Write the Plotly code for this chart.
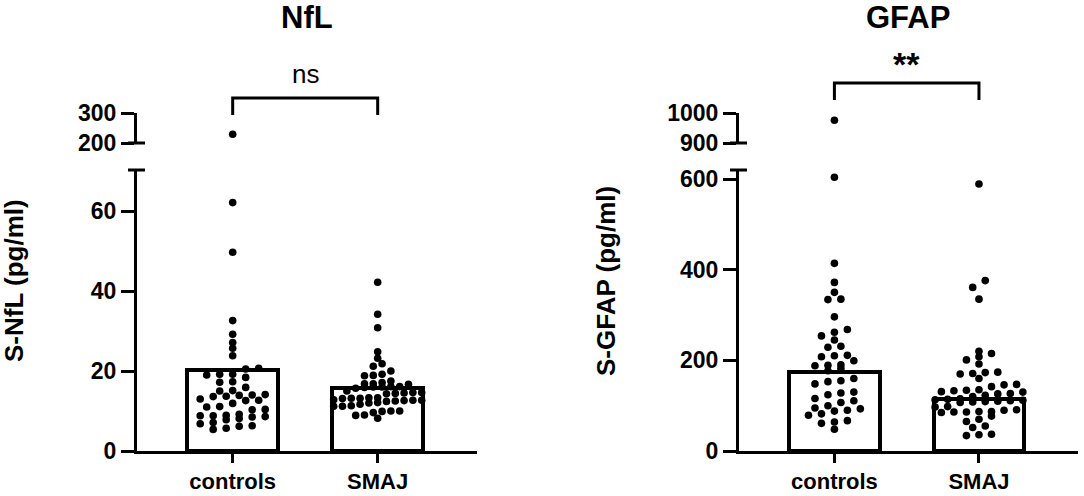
import plotly.graph_objects as go

W, H = 1084, 496

# ---------------- data ----------------
groups = ["controls", "SMAJ"]

nfl_controls = [229, 62.1, 49.7, 32.6, 29.2, 27.1, 25.7, 23.8, 20.7, 20.5, 19.2, 19.2, 19.0,
                18.4, 17.3, 17.2, 15.9, 15.1, 15.0, 14.1, 14.0, 13.9, 13.7, 13.6, 13.0, 12.7,
                12.6, 11.9, 11.1, 11.0, 10.4, 10.3, 9.2, 8.9, 8.8, 8.8, 8.6, 8.5, 8.1, 7.8,
                7.1, 6.8, 6.3, 6.2, 5.7, 5.4]
nfl_smaj = [42.2, 34.2, 30.8, 24.8, 23.2, 21.8, 21.2, 20.0, 19.2, 18.9, 18.8, 17.5, 17.1,
            16.8, 16.8, 16.7, 16.1, 16.1, 16.0, 16.0, 15.9, 15.7, 15.0, 14.6, 14.6, 14.5,
            14.4, 14.3, 13.3, 13.3, 13.2, 13.2, 13.1, 12.8, 12.7, 12.7, 12.6, 12.5, 12.4,
            12.1, 12.0, 11.7, 11.3, 11.2, 11.2, 10.0, 10.0, 9.9, 9.6, 9.0, 8.9, 8.2]
gfap_controls = [976, 604, 414, 372, 350, 335, 334, 296, 268, 262, 254, 245, 231, 229, 211,
                 210, 208, 199, 190, 189, 188, 182, 177, 160, 155, 153, 148, 130, 128, 124,
                 116, 111, 107, 100, 95, 93, 90, 88, 82, 79, 67, 64, 61, 48]
gfap_smaj = [589, 376, 361, 335, 220, 215, 208, 201, 192, 174, 173, 171, 170, 160, 147, 146,
             142, 135, 134, 133, 131, 130, 127, 126, 123, 120, 115, 114, 113, 112, 111, 110,
             109, 108, 107, 98, 97, 91, 90, 87, 87, 86, 86, 85, 77, 70, 65, 55, 52, 37, 36, 34]

nfl_bar = [20.25, 15.8]
gfap_bar = [173.5, 114]

nfl_lower_ticks = [0, 20, 40, 60]
nfl_upper_ticks = [200, 300]
gfap_lower_ticks = [0, 200, 400, 600]
gfap_upper_ticks = [900, 1000]

panel_titles = ["NfL", "GFAP"]
y_titles = ["S-NfL (pg/ml)", "S-GFAP (pg/ml)"]
significance = ["ns", "**"]

# ---------------- layout geometry ----------------
FONT = "Liberation Sans, Arial, sans-serif"
x_domains = [[137 / W, 477 / W], [739 / W, 1078 / W]]
x_range = [-0.66, 1.685]
low_dom = [1 - 451 / H, 1 - 170 / H]
up_dom = [1 - 143 / H, 1 - 113 / H]
low_ranges = [[0, 70.25], [0, 620]]
up_ranges = [[200, 300], [900, 1000]]

px_per_xunit = (x_domains[0][1] - x_domains[0][0]) * W / (x_range[1] - x_range[0])


def value_to_px(v, lr, ur):
    if v <= lr[1]:
        return (1 - low_dom[0]) * H - (v - lr[0]) * (low_dom[1] - low_dom[0]) * H / (lr[1] - lr[0])
    return (1 - up_dom[0]) * H - (v - ur[0]) * (up_dom[1] - up_dom[0]) * H / (ur[1] - ur[0])


def swarm(values, lr, ur, row_px=8.0, max_half=44.0, max_step=13.0):
    """Prism-like scatter: bin points into rows one dot high, centre each row."""
    rows = {}
    for i, v in enumerate(values):
        key = int(value_to_px(v, lr, ur) // row_px)
        rows.setdefault(key, []).append(i)
    max_n = max(len(r) for r in rows.values())
    step = min(max_step, 2 * max_half / (max_n - 1)) if max_n > 1 else 0
    offs = [0.0] * len(values)
    for key, idx in rows.items():
        idx = sorted(idx, key=lambda i: values[i])
        n = len(idx)
        for j, i in enumerate(idx):
            offs[i] = (j - (n - 1) / 2) * step / px_per_xunit
    return offs


fig = go.Figure()

panels = [
    (nfl_controls, nfl_smaj, nfl_bar, "x", "y", "y2", 0),
    (gfap_controls, gfap_smaj, gfap_bar, "x2", "y3", "y4", 1),
]

for ctrl, smaj, bars, xa, ylo, yup, p in panels:
    lr, ur = low_ranges[p], up_ranges[p]
    fig.add_trace(go.Bar(
        x=[0, 1], y=bars, width=0.628, xaxis=xa, yaxis=ylo,
        marker=dict(color="white", line=dict(color="black", width=4)),
        showlegend=False, hoverinfo="skip"))
    for gi, vals in enumerate([ctrl, smaj]):
        offs = swarm(vals, lr, ur)
        lo_x = [gi + o for v, o in zip(vals, offs) if v <= lr[1]]
        lo_y = [v for v in vals if v <= lr[1]]
        hi_x = [gi + o for v, o in zip(vals, offs) if v > lr[1]]
        hi_y = [v for v in vals if v > lr[1]]
        mk = dict(color="black", size=7.6, line=dict(width=0))
        fig.add_trace(go.Scatter(x=lo_x, y=lo_y, mode="markers", marker=mk,
                                 xaxis=xa, yaxis=ylo, showlegend=False, cliponaxis=False))
        fig.add_trace(go.Scatter(x=hi_x, y=hi_y, mode="markers", marker=mk,
                                 xaxis=xa, yaxis=yup, showlegend=False, cliponaxis=False))

tickfont = dict(family=FONT, size=23, color="black", weight="bold")
common_y = dict(showline=True, linecolor="black", linewidth=3, ticks="outside", ticklen=13,
                tickwidth=3, tickcolor="black", showgrid=False, zeroline=False,
                tickfont=tickfont, fixedrange=True, automargin=False)
common_x = dict(showline=True, linecolor="black", linewidth=3, ticks="outside", ticklen=9,
                tickwidth=3, tickcolor="black", showgrid=False, zeroline=False,
                tickfont=dict(family=FONT, size=22, color="black", weight="bold"),
                tickvals=[0, 1], ticktext=groups, range=x_range, fixedrange=True,
                automargin=False)

fig.update_layout(
    width=W, height=H, margin=dict(l=0, r=0, t=0, b=0, pad=0, autoexpand=False),
    paper_bgcolor="white", plot_bgcolor="white", showlegend=False, bargap=0,
    xaxis=dict(domain=x_domains[0], anchor="y", **common_x),
    xaxis2=dict(domain=x_domains[1], anchor="y3", **common_x),
    yaxis=dict(domain=low_dom, anchor="x", range=low_ranges[0], tickvals=nfl_lower_ticks, **common_y),
    yaxis2=dict(domain=up_dom, anchor="x", range=up_ranges[0], tickvals=nfl_upper_ticks, **common_y),
    yaxis3=dict(domain=low_dom, anchor="x2", range=low_ranges[1], tickvals=gfap_lower_ticks, **common_y),
    yaxis4=dict(domain=up_dom, anchor="x2", range=up_ranges[1], tickvals=gfap_upper_ticks, **common_y),
)

# axis break caps
shapes = []
for p in range(2):
    ax_x = x_domains[p][0]
    for yy in [low_dom[1], up_dom[0]]:
        shapes.append(dict(type="line", xref="paper", yref="paper",
                           x0=ax_x - 9 / W, x1=ax_x + 8 / W, y0=yy, y1=yy,
                           line=dict(color="black", width=3)))

# significance brackets
bracket_y = [(1 - 98 / H, 1 - 115 / H), (1 - 83 / H, 1 - 100 / H)]
for p, xa in enumerate(["x", "x2"]):
    top, bot = bracket_y[p]
    shapes.append(dict(type="path", xref=xa, yref="paper",
                       path=f"M 0 {bot} L 0 {top} L 1 {top} L 1 {bot}",
                       line=dict(color="black", width=3)))
fig.update_layout(shapes=shapes)

ann = []
title_x = [307 / W, 908 / W]
for p in range(2):
    ann.append(dict(text=panel_titles[p], x=title_x[p], y=1.0, yshift=2, xref="paper", yref="paper",
                    showarrow=False, xanchor="center", yanchor="top",
                    font=dict(family=FONT, size=31, color="black", weight="bold")))
for p, xx in enumerate([14 / W, 606 / W]):
    ann.append(dict(text=y_titles[p], x=xx, y=1 - 281 / H, xref="paper", yref="paper",
                    showarrow=False, xanchor="center", yanchor="middle", textangle=-90,
                    font=dict(family=FONT, size=26, color="black", weight="bold")))
ann.append(dict(text=significance[0], x=0.5, y=1 - 73.5 / H, xref="x", yref="paper",
                showarrow=False, xanchor="center", yanchor="middle",
                font=dict(family=FONT, size=26, color="black")))
ann.append(dict(text=significance[1], x=0.5, y=1 - 64 / H, xref="x2", yref="paper",
                showarrow=False, xanchor="center", yanchor="middle",
                font=dict(family=FONT, size=34, color="black", weight="bold")))
fig.update_layout(annotations=ann)

fig.write_html("out.html", config={"displayModeBar": False},
               post_script="document.body.style.margin='0px';")
